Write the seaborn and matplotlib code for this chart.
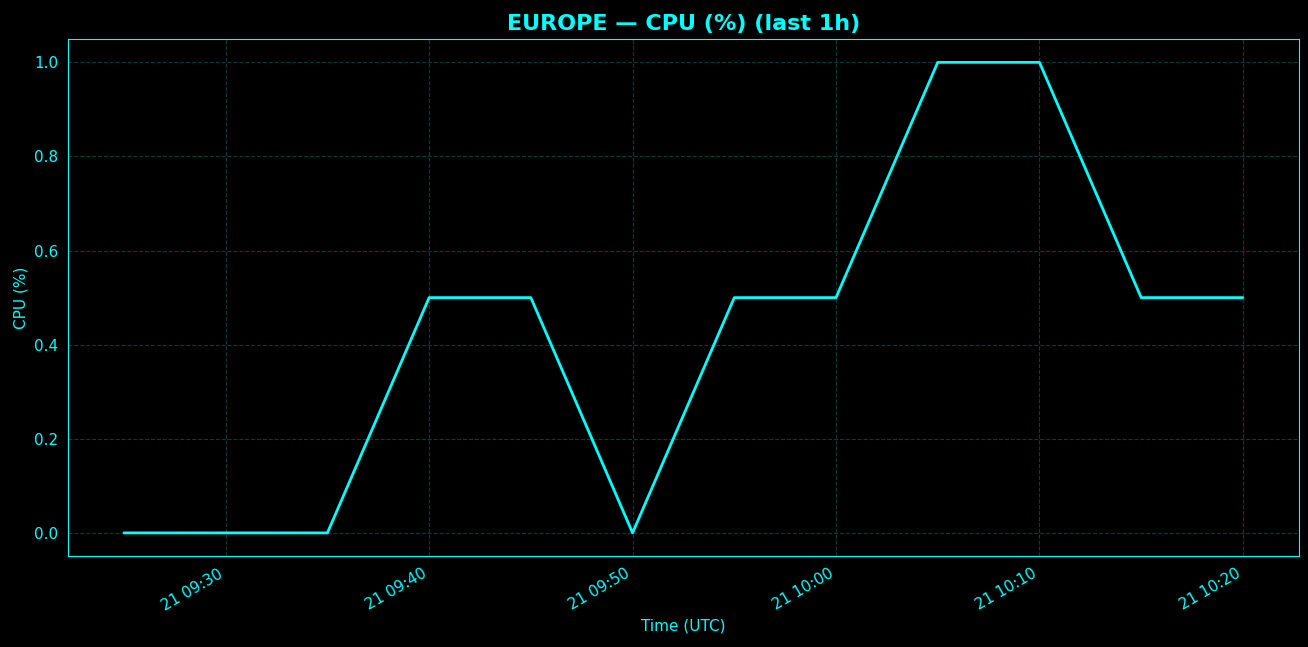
import matplotlib
matplotlib.use("Agg")
import matplotlib.pyplot as plt
import matplotlib.dates as mdates
import seaborn as sns
import pandas as pd

times = ["2024-01-21 09:25", "2024-01-21 09:30", "2024-01-21 09:35", "2024-01-21 09:40",
         "2024-01-21 09:45", "2024-01-21 09:50", "2024-01-21 09:55", "2024-01-21 10:00",
         "2024-01-21 10:05", "2024-01-21 10:10", "2024-01-21 10:15", "2024-01-21 10:20"]
cpu = [0, 0, 0, 0.5, 0.5, 0, 0.5, 0.5, 1.0, 1.0, 0.5, 0.5]

df = pd.DataFrame({"time": pd.to_datetime(times), "cpu": cpu})

sns.set_style("dark")
plt.rcParams["font.family"] = ["DejaVu Sans"]
fig, ax = plt.subplots(figsize=(13.08, 6.47), dpi=100)
fig.patch.set_facecolor("black")
ax.set_facecolor("black")
sns.lineplot(data=df, x="time", y="cpu", ax=ax, color="cyan", linewidth=2)
ax.set_title("EUROPE — CPU (%) (last 1h)", color="cyan", fontsize=16, fontweight="bold")
ax.set_xlabel("Time (UTC)", color="cyan", fontsize=11)
ax.set_ylabel("CPU (%)", color="cyan", fontsize=11)
ax.tick_params(colors="cyan", labelsize=11)
for s in ax.spines.values():
    s.set_color("cyan")
    s.set_visible(True)
ax.grid(True, color="#0a3a3a", linestyle="--", linewidth=0.8)
ax.xaxis.set_major_locator(mdates.MinuteLocator(byminute=[0, 10, 20, 30, 40, 50]))
ax.xaxis.set_major_formatter(mdates.DateFormatter("%d %H:%M"))
for lab in ax.get_xticklabels():
    lab.set_rotation(30)
    lab.set_ha("right")
fig.subplots_adjust(left=0.052, right=0.993, top=0.94, bottom=0.14)
fig.savefig("out.png", facecolor="black")
